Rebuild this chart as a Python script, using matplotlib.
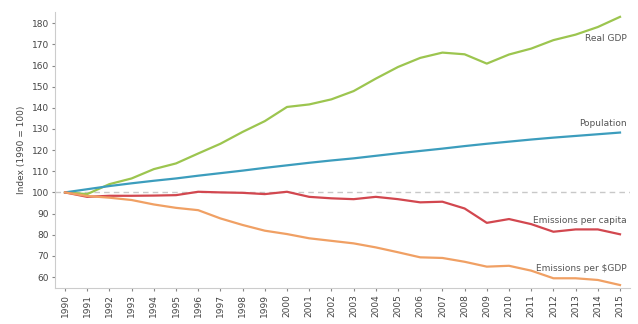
import matplotlib
matplotlib.use("Agg")
import matplotlib.pyplot as plt

years = list(range(1990, 2016))
real_gdp = [100, 99.2, 103.9, 106.6, 111.0, 113.7, 118.4, 123.0, 128.6, 133.7, 140.4,
            141.6, 144.0, 147.9, 153.8, 159.3, 163.6, 166.1, 165.3, 160.9, 165.2,
            168.0, 172.0, 174.6, 178.2, 183.0]
population = [100, 101.5, 103.0, 104.3, 105.5, 106.6, 107.9, 109.1, 110.3, 111.6, 112.8,
              114.0, 115.1, 116.1, 117.3, 118.5, 119.6, 120.7, 121.9, 123.0, 124.0,
              125.0, 125.9, 126.7, 127.5, 128.3]
em_per_capita = [100, 97.9, 98.4, 98.4, 98.5, 98.7, 100.3, 100.0, 99.8, 99.2, 100.3,
                 97.9, 97.2, 96.8, 97.9, 96.8, 95.3, 95.6, 92.4, 85.6, 87.4,
                 85.0, 81.4, 82.5, 82.5, 80.2]
em_per_gdp = [100, 98.3, 97.5, 96.4, 94.3, 92.7, 91.6, 87.7, 84.6, 81.9, 80.3,
              78.3, 77.1, 75.9, 74.0, 71.7, 69.3, 69.0, 67.2, 64.9, 65.3,
              63.0, 59.4, 59.4, 58.6, 56.2]
yticks = list(range(60, 181, 10))

series = [
    ("Real GDP", real_gdp, "#9cc54f", 172.9),
    ("Population", population, "#3c9dbd", 132.7),
    ("Emissions per capita", em_per_capita, "#d2474f", 86.6),
    ("Emissions per $GDP", em_per_gdp, "#f0a064", 63.8),
]

plt.rcParams['font.family'] = ['DejaVu Sans']
fig = plt.figure(figsize=(6.38, 3.24), dpi=100)
ax = fig.add_axes([55/638, 1-288/324, (630-55)/638, (288-12)/324])

ax.axhline(100, color="#c8c8c8", lw=1.0, ls=(0, (4, 3)), zorder=1)
for name, vals, col, ly in series:
    ax.plot(years, vals, color=col, lw=1.6, zorder=2)
    ax.text(2015.3, ly, name, ha='right', va='center', fontsize=6.5, color="#555555")

ax.set_xlim(1989.55, 2015.45)
ax.set_ylim(54.8, 185.3)
ax.set_xticks(years)
ax.set_xticklabels([str(y) for y in years], rotation=90, fontsize=6.5, color="#444444")
ax.set_yticks(yticks)
ax.set_yticklabels([str(v) for v in yticks], fontsize=6.5, color="#444444")
ax.set_ylabel("Index (1990 = 100)", fontsize=6.5, color="#444444", labelpad=4)
for s in ["top", "right"]:
    ax.spines[s].set_visible(False)
for s in ["left", "bottom"]:
    ax.spines[s].set_color("#cccccc")
    ax.spines[s].set_linewidth(0.8)
ax.tick_params(axis='both', length=2.5, width=0.8, color="#888888", pad=2)

fig.savefig("out.png", dpi=100)
